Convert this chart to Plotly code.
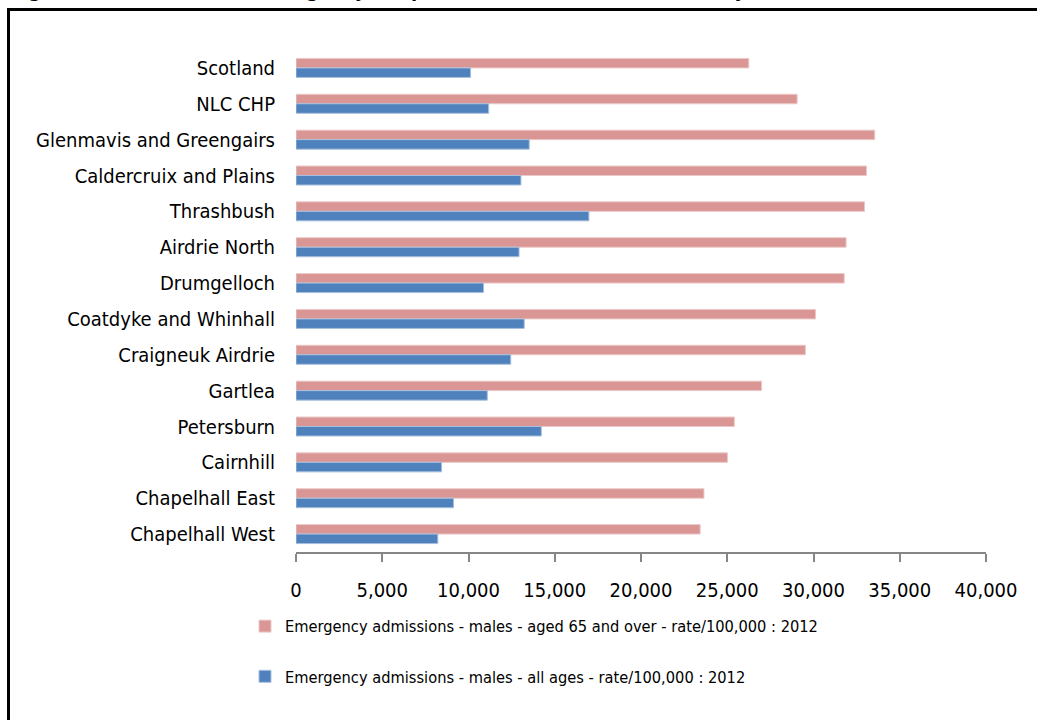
import plotly.graph_objects as go

# Intermediate geographies, listed top to bottom
areas = [
    "Scotland", "NLC CHP", "Glenmavis and Greengairs", "Caldercruix and Plains",
    "Thrashbush", "Airdrie North", "Drumgelloch", "Coatdyke and Whinhall",
    "Craigneuk Airdrie", "Gartlea", "Petersburn", "Cairnhill",
    "Chapelhall East", "Chapelhall West",
]

# Emergency admission rates per 100,000 (2012)
males_65_plus = [26250, 29050, 33550, 33070, 32960, 31890, 31780,
                 30120, 29530, 26990, 25410, 25010, 23650, 23430]
males_all_ages = [10120, 11170, 13520, 13040, 16980, 12930, 10870,
                  13230, 12450, 11090, 14220, 8440, 9130, 8220]

x_ticks = [0, 5000, 10000, 15000, 20000, 25000, 30000, 35000, 40000]

name_65 = "Emergency admissions - males - aged 65 and over - rate/100,000 : 2012"
name_all = "Emergency admissions - males - all ages - rate/100,000 : 2012"

FONT = "DejaVu Sans Condensed, Lato, sans-serif"
PINK = "#D99694"
BLUE = "#4F81BD"

fig = go.Figure()
fig.add_trace(go.Bar(
    y=areas, x=males_65_plus, orientation="h", name=name_65,
    marker=dict(color=PINK, line=dict(color="#EBC9C8", width=1)),
    legendgroup="a",
))
fig.add_trace(go.Bar(
    y=areas, x=males_all_ages, orientation="h", name=name_all,
    marker=dict(color=BLUE, line=dict(color="#A7BFDD", width=1)),
    legendgroup="b",
))

L, R, T, B = 296, 51, 50, 168
W, H = 1037, 720
pw, ph = W - L - R, H - T - B


def px_x(px):
    return (px - L) / pw


def px_y(py):
    return (H - B - py) / ph


fig.update_layout(
    width=W, height=H,
    margin=dict(l=L, r=R, t=T, b=B, pad=0, autoexpand=False),
    paper_bgcolor="white", plot_bgcolor="white",
    barmode="group", bargap=0.47, bargroupgap=0,
    font=dict(family=FONT, color="#000000"),
    xaxis=dict(
        range=[0, 40000], tickvals=x_ticks, automargin=False,
        tickformat=",", showgrid=False, zeroline=False,
        showline=True, linecolor="#868686", linewidth=1.5,
        ticks="outside", ticklen=8, tickcolor="#868686", tickwidth=1.5,
        ticklabelstandoff=11,
        tickfont=dict(size=20, family=FONT, color="#000000"),
    ),
    yaxis=dict(
        categoryorder="array", categoryarray=areas, autorange="reversed",
        automargin=False,
        showgrid=False, zeroline=False, showline=False, ticks="",
        ticklabelstandoff=20,
        tickfont=dict(size=20, family=FONT, color="#000000"),
    ),
    legend=dict(
        x=px_x(245), xanchor="left", y=px_y(609), yanchor="top",
        font=dict(size=16.3, family=FONT, color="#000000"),
        tracegroupgap=26, bgcolor="rgba(0,0,0,0)",
    ),
    showlegend=True,
)

# Outer frame around the chart (runs off the page to the right and bottom)
fig.add_shape(
    type="rect", xref="paper", yref="paper",
    x0=px_x(8.5), x1=px_x(1100), y0=px_y(800), y1=px_y(9.5),
    line=dict(color="#000000", width=3), fillcolor="rgba(0,0,0,0)",
    layer="above",
)

# Figure caption sitting above the frame
fig.add_annotation(
    xref="paper", yref="paper", x=px_x(8), xanchor="left",
    y=px_y(4), yanchor="bottom", showarrow=False,
    text="<b>Figure 12: Rate of Male Emergency Hospital Admissions, Airdrie Locality (2012)</b>",
    font=dict(size=20, family=FONT, color="#000000"),
)

fig.write_html("out.html")
